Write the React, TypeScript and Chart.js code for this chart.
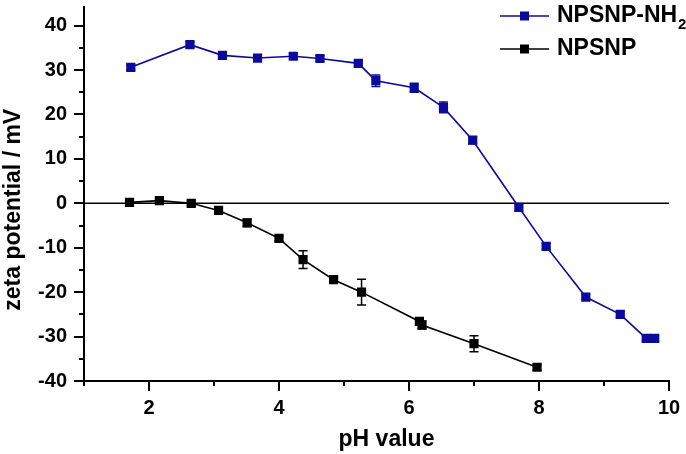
import React, { useEffect, useRef } from "react";
import { Chart, registerables } from "chart.js";

Chart.register(...registerables);

// NPSNP-NH2 (blue)
const nh2X = [1.72, 2.63, 3.13, 3.67, 4.22, 4.63, 5.22, 5.49, 6.08, 6.53, 6.98, 7.69, 8.11, 8.72, 9.25, 9.65, 9.78];
const nh2Y = [30.6, 35.7, 33.3, 32.7, 33.1, 32.6, 31.5, 27.6, 26.0, 21.6, 14.2, -0.9, -9.7, -21.1, -25.0, -30.4, -30.4];
const nh2Err = [0.6, 0.6, 0.7, 0.6, 0.6, 0.6, 0.6, 1.3, 1.0, 1.2, 0.8, 0.8, 0.7, 0.6, 0.7, 0.6, 0.6];

// NPSNP (black)
const npX = [1.70, 2.16, 2.65, 3.07, 3.51, 4.0, 4.37, 4.84, 5.27, 6.16, 6.20, 7.0, 7.97];
const npY = [0.2, 0.6, 0.0, -1.6, -4.4, -7.9, -12.7, -17.2, -20.0, -26.6, -27.4, -31.6, -36.9];
const npErr = [0.5, 0.5, 0.5, 0.6, 0.8, 0.6, 2.0, 0.6, 2.9, 0.8, 0.9, 1.8, 0.6];

const yTickValues = [-40, -30, -20, -10, 0, 10, 20, 30, 40];
const xTickValues = [2, 4, 6, 8, 10];

const legendMain = ["NPSNP-NH", "NPSNP"];
const legendSub = ["2", ""];

const xTitle = "pH value";
const yTitle = "zeta potential / mV";

const BLUE = "#0a0a9c";
const BLACK = "#000000";
const FONT = "'Liberation Sans', Arial, sans-serif";

const extrasPlugin = {
  id: "extras",
  beforeDatasetsDraw(chart: any) {
    const { ctx, chartArea, scales } = chart;
    const x = scales.x;
    const y = scales.y;
    ctx.save();
    // zero line
    const y0 = y.getPixelForValue(0);
    ctx.strokeStyle = "#000";
    ctx.lineWidth = 1.5;
    ctx.beginPath();
    ctx.moveTo(chartArea.left, y0);
    ctx.lineTo(chartArea.right, y0);
    ctx.stroke();
    // error bars
    chart.data.datasets.forEach((ds: any) => {
      const errs = ds.errors as number[];
      ctx.strokeStyle = ds.borderColor;
      ctx.lineWidth = 1.5;
      ds.data.forEach((p: any, j: number) => {
        const e = errs[j];
        const px = x.getPixelForValue(p.x);
        const top = y.getPixelForValue(p.y + e);
        const bot = y.getPixelForValue(p.y - e);
        ctx.beginPath();
        ctx.moveTo(px, top);
        ctx.lineTo(px, bot);
        ctx.moveTo(px - 4.5, top);
        ctx.lineTo(px + 4.5, top);
        ctx.moveTo(px - 4.5, bot);
        ctx.lineTo(px + 4.5, bot);
        ctx.stroke();
      });
    });
    ctx.restore();
  },
  afterDraw(chart: any) {
    const { ctx, chartArea, scales } = chart;
    const x = scales.x;
    const y = scales.y;
    ctx.save();
    ctx.strokeStyle = "#000";
    ctx.lineWidth = 2;
    // y ticks (major + minor)
    for (let v = -40; v <= 40; v += 5) {
      const py = Math.round(y.getPixelForValue(v));
      const len = v % 10 === 0 ? 10 : 5;
      ctx.beginPath();
      ctx.moveTo(chartArea.left - len, py);
      ctx.lineTo(chartArea.left, py);
      ctx.stroke();
    }
    // x ticks (major + minor)
    for (let v = 1; v <= 10; v += 1) {
      const px = Math.round(x.getPixelForValue(v));
      const len = v % 2 === 0 ? 10 : 5;
      ctx.beginPath();
      ctx.moveTo(px, chartArea.bottom);
      ctx.lineTo(px, chartArea.bottom + len);
      ctx.stroke();
    }
    // axis titles
    ctx.fillStyle = "#000";
    ctx.font = `bold 23px ${FONT}`;
    ctx.textAlign = "center";
    ctx.textBaseline = "middle";
    ctx.fillText(xTitle, (chartArea.left + chartArea.right) / 2 + 10, 440);
    ctx.save();
    ctx.translate(14, (chartArea.top + chartArea.bottom) / 2 + 16);
    ctx.rotate(-Math.PI / 2);
    ctx.fillText(yTitle, 0, 0);
    ctx.restore();
    // legend
    chart.data.datasets.forEach((ds: any, i: number) => {
      const cy = 16 + i * 33;
      ctx.strokeStyle = ds.borderColor;
      ctx.lineWidth = 1.5;
      ctx.beginPath();
      ctx.moveTo(500, cy);
      ctx.lineTo(549, cy);
      ctx.stroke();
      ctx.fillStyle = ds.backgroundColor;
      ctx.fillRect(520, cy - 4.5, 9, 9);
      ctx.fillStyle = "#000";
      ctx.font = `bold 23px ${FONT}`;
      ctx.textBaseline = "middle";
      ctx.textAlign = "left";
      ctx.fillText(legendMain[i], 557, cy);
      if (legendSub[i]) {
        const w = ctx.measureText(legendMain[i]).width;
        ctx.font = `bold 15px ${FONT}`;
        ctx.fillText(legendSub[i], 557 + w + 1, cy + 9);
      }
    });
    ctx.restore();
  },
};

export default function App() {
  const ref = useRef<HTMLCanvasElement>(null);
  useEffect(() => {
    if (!ref.current) return;
    const chart = new Chart(ref.current, {
      type: "scatter",
      data: {
        datasets: [
          {
            label: legendMain[0] + legendSub[0],
            data: nh2X.map((v, i) => ({ x: v, y: nh2Y[i] })),
            errors: nh2Err,
            showLine: true,
            borderColor: BLUE,
            backgroundColor: BLUE,
            borderWidth: 1.6,
            pointStyle: "rect",
            pointRadius: 6.5,
            pointBorderWidth: 0,
          } as any,
          {
            label: legendMain[1] + legendSub[1],
            data: npX.map((v, i) => ({ x: v, y: npY[i] })),
            errors: npErr,
            showLine: true,
            borderColor: BLACK,
            backgroundColor: BLACK,
            borderWidth: 1.6,
            pointStyle: "rect",
            pointRadius: 6.5,
            pointBorderWidth: 0,
          } as any,
        ],
      },
      options: {
        animation: false,
        responsive: false,
        layout: { padding: { left: 0, right: 17, top: 0, bottom: 0 } },
        plugins: {
          legend: { display: false },
          tooltip: { enabled: false },
        },
        scales: {
          x: {
            type: "linear",
            min: 1,
            max: 10,
            grid: { display: false, drawTicks: false },
            border: { display: true, color: "#000", width: 2 },
            afterBuildTicks: (s: any) => {
              s.ticks = xTickValues.map((v) => ({ value: v }));
            },
            ticks: {
              padding: 15,
              color: "#000",
              font: { family: FONT, size: 20, weight: "bold" },
              callback: (v: any) => String(v),
              autoSkip: false,
              maxRotation: 0,
            },
            afterFit: (s: any) => {
              s.height = 73;
              s.paddingLeft = 0;
              s.paddingRight = 0;
            },
          },
          y: {
            type: "linear",
            min: -40,
            max: 44.3,
            grid: { display: false, drawTicks: false },
            border: { display: true, color: "#000", width: 2 },
            afterBuildTicks: (s: any) => {
              s.ticks = yTickValues.map((v) => ({ value: v }));
            },
            ticks: {
              padding: 17,
              color: "#000",
              font: { family: FONT, size: 20, weight: "bold" },
              callback: (v: any) => String(v),
              autoSkip: false,
            },
            afterFit: (s: any) => {
              s.width = 84;
              s.paddingTop = 0;
              s.paddingBottom = 0;
            },
          },
        },
      } as any,
      plugins: [extrasPlugin],
    });
    return () => chart.destroy();
  }, []);
  return (
    <div style={{ position: "fixed", left: 0, top: 0, width: 686, height: 454, background: "#fff" }}>
      <canvas ref={ref} width={686} height={454} />
    </div>
  );
}
